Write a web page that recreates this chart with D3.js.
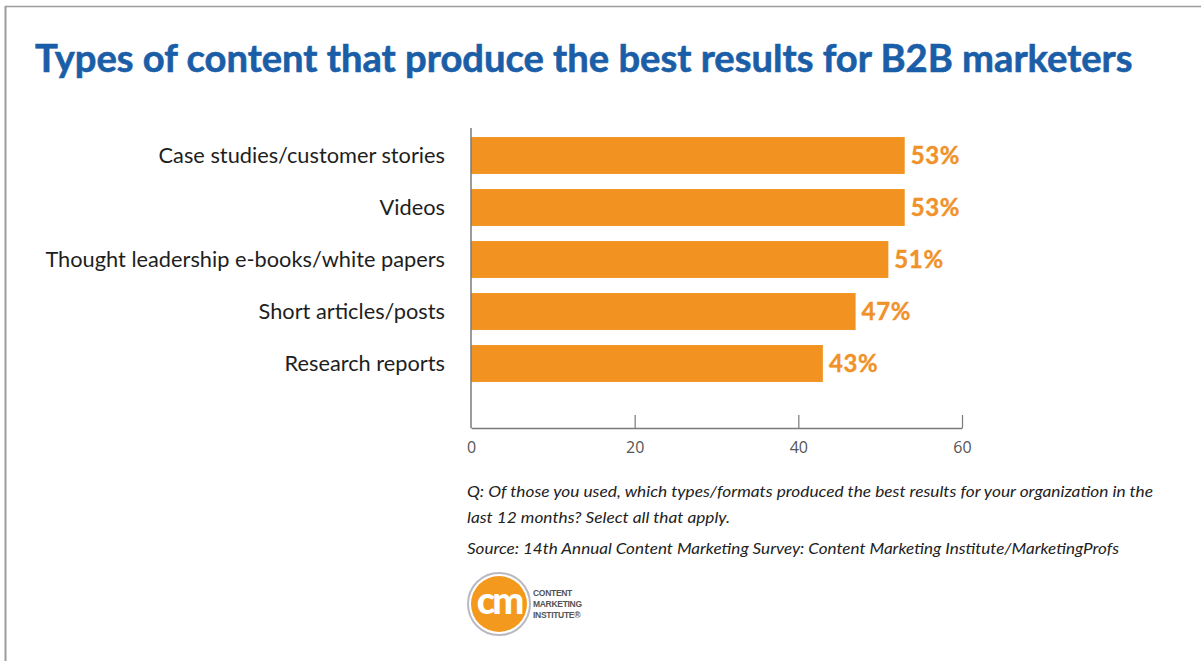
<!DOCTYPE html>
<html>
<head>
<meta charset="utf-8">
<script src="https://cdn.jsdelivr.net/npm/d3@7"></script>
<style>
  html, body { margin: 0; padding: 0; background: #ffffff; }
  svg { display: block; }
</style>
</head>
<body>
<div id="chart"></div>
<script>
// Survey results: share of B2B marketers naming each content type
const categories = [
  "Case studies/customer stories",
  "Videos",
  "Thought leadership e-books/white papers",
  "Short articles/posts",
  "Research reports"
];
const values = [53, 53, 51, 47, 43];
const axisTicks = [0, 20, 40, 60];

const titleText = "Types of content that produce the best results for B2B marketers";
const noteLines = [
  "Q: Of those you used, which types/formats produced the best results for your organization in the",
  "last 12 months? Select all that apply.",
  "Source: 14th Annual Content Marketing Survey: Content Marketing Institute/MarketingProfs"
];
const logoWords = ["CONTENT", "MARKETING", "INSTITUTE\u00AE"];

const W = 1201, H = 661;
const ORANGE = "#f29321";
const BLUE = "#1b5ea8";

const svg = d3.select("#chart").append("svg")
  .attr("width", W).attr("height", H);

svg.append("rect").attr("width", W).attr("height", H).attr("fill", "#fff");

// frame edges (top and left)
svg.append("line").attr("x1", 5).attr("x2", W).attr("y1", 6.5).attr("y2", 6.5)
  .attr("stroke", "#9c9c9c").attr("stroke-width", 1.5);
svg.append("line").attr("x1", 5.5).attr("x2", 5.5).attr("y1", 6).attr("y2", H)
  .attr("stroke", "#9c9c9c").attr("stroke-width", 2);

// scale a text element's font size so that its width equals target
function fitWidth(sel, target) {
  const fs = parseFloat(sel.attr("font-size"));
  const w = sel.node().getComputedTextLength();
  sel.attr("font-size", fs * target / w);
}

// title
const title = svg.append("text")
  .attr("x", 35).attr("y", 72)
  .attr("font-family", "Lato, 'Open Sans', sans-serif")
  .attr("font-weight", 700)
  .attr("font-size", 33)
  .attr("fill", BLUE)
  .attr("stroke", BLUE)
  .attr("stroke-width", 0.6)
  .text(titleText);
fitWidth(title, 1098);

// scales
const x = d3.scaleLinear().domain([0, 60]).range([471, 962]);
const y = d3.scaleBand().domain(categories)
  .range([129.5, 389.5]).paddingInner(0.29).paddingOuter(0.145);

// bars
svg.append("g").selectAll("rect")
  .data(values)
  .join("rect")
  .attr("x", x(0))
  .attr("y", (d, i) => y(categories[i]))
  .attr("width", d => x(d) - x(0))
  .attr("height", y.bandwidth())
  .attr("fill", ORANGE);

// value labels
svg.append("g").selectAll("text")
  .data(values)
  .join("text")
  .attr("x", d => x(d) + 6)
  .attr("y", (d, i) => y(categories[i]) + y.bandwidth() / 2)
  .attr("dy", "0.36em")
  .attr("font-family", "Lato, 'Open Sans', sans-serif")
  .attr("font-weight", 700)
  .attr("font-size", 24)
  .attr("letter-spacing", 0.6)
  .attr("fill", "#f0922a")
  .attr("stroke", "#f0922a")
  .attr("stroke-width", 0.4)
  .text(d => d + "%");

// category labels
const catG = svg.append("g");
const catLabels = catG.selectAll("text")
  .data(categories)
  .join("text")
  .attr("x", 445)
  .attr("y", d => y(d) + y.bandwidth() / 2)
  .attr("dy", "0.35em")
  .attr("text-anchor", "end")
  .attr("font-family", "Lato, 'Open Sans', sans-serif")
  .attr("font-size", 20)
  .attr("fill", "#1e1e1e")
  .text(d => d);
{
  const longest = catLabels.filter((d, i) => i === 2);
  const w = longest.node().getComputedTextLength();
  catLabels.attr("font-size", 20 * 400 / w);
}

// vertical axis line
svg.append("line")
  .attr("x1", x(0)).attr("x2", x(0))
  .attr("y1", 128).attr("y2", 428)
  .attr("stroke", "#7a7a7a").attr("stroke-width", 1.5);

// bottom axis
const xAxis = d3.axisBottom(x)
  .tickValues(axisTicks)
  .tickSizeInner(-13)
  .tickSizeOuter(0)
  .tickPadding(14)
  .tickFormat(d3.format("d"));

const axG = svg.append("g")
  .attr("transform", "translate(0,428)")
  .call(xAxis);
axG.select(".domain").attr("stroke", "#7a7a7a").attr("stroke-width", 1.5);
axG.selectAll(".tick line").attr("stroke", "#7a7a7a").attr("stroke-width", 1.2);
axG.selectAll(".tick").filter(d => d === 0).select("line").remove();
axG.selectAll(".tick text")
  .attr("font-family", "'Open Sans', Lato, sans-serif")
  .attr("font-size", 16)
  .attr("fill", "#555");

// notes
const noteY = [497, 523, 554];
const noteW = [686, 263, 652];
noteLines.forEach((t, i) => {
  const el = svg.append("text")
    .attr("x", 467).attr("y", noteY[i])
    .attr("font-family", "Lato, 'Open Sans', sans-serif")
    .attr("font-style", "italic")
    .attr("font-size", 15.5)
    .attr("fill", "#222")
    .text(t);
  el.attr("textLength", noteW[i]).attr("lengthAdjust", "spacingAndGlyphs");
});

// publisher mark
const logo = svg.append("g").attr("transform", "translate(499,604)");
logo.append("circle").attr("r", 31).attr("fill", "#fff")
  .attr("stroke", "#b9b9c4").attr("stroke-width", 2);
logo.append("circle").attr("r", 28).attr("fill", "#f39a1e");
logo.append("text")
  .attr("text-anchor", "middle")
  .attr("y", 10)
  .attr("font-family", "Lato, 'Open Sans', sans-serif")
  .attr("font-weight", 900)
  .attr("font-size", 38)
  .attr("letter-spacing", -3)
  .attr("fill", "#fff")
  .text("cm");
logo.selectAll("text.word")
  .data(logoWords)
  .join("text")
  .attr("class", "word")
  .attr("x", 34)
  .attr("y", (d, i) => -8 + i * 11)
  .attr("font-family", "'Liberation Sans', Arial, sans-serif")
  .attr("font-weight", 700)
  .attr("font-size", 8.5)
  .attr("letter-spacing", -0.3)
  .attr("fill", "#555")
  .text(d => d);
</script>
</body>
</html>
